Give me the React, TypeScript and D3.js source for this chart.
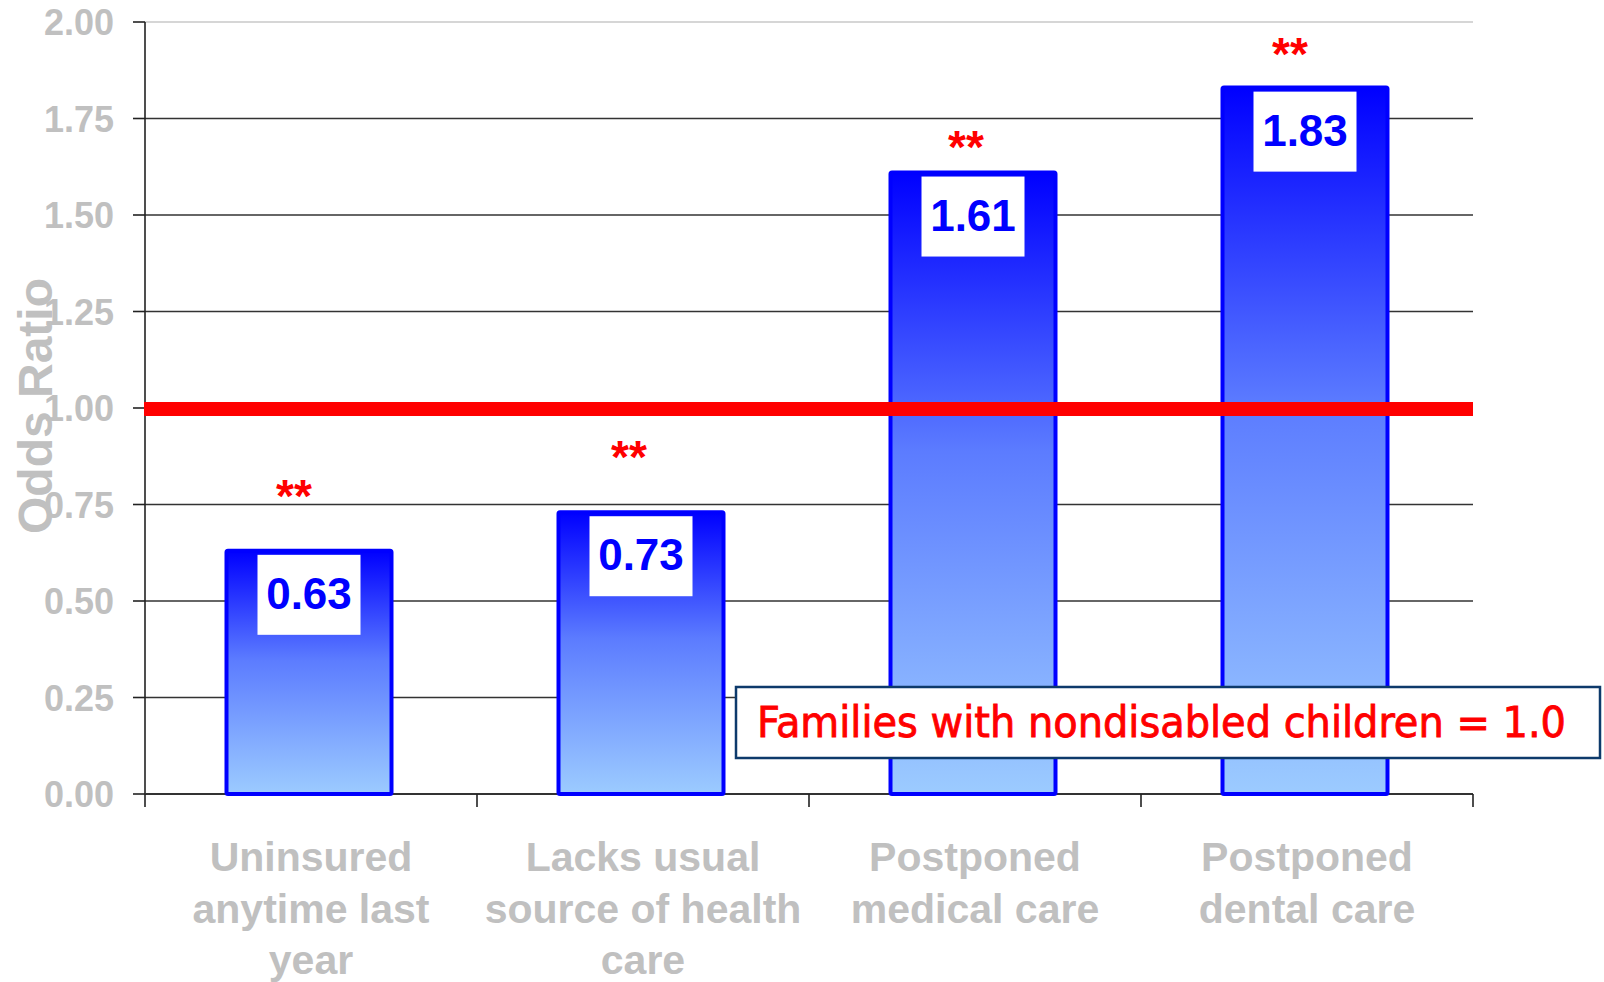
import React from "react";
import * as d3 from "d3";

// Odds ratios for families with disabled children, by access measure
const categories = [
  "Uninsured anytime last year",
  "Lacks usual source of health care",
  "Postponed medical care",
  "Postponed dental care",
];
const categoryLines = [
  ["Uninsured", "anytime last", "year"],
  ["Lacks usual", "source of health", "care"],
  ["Postponed", "medical care"],
  ["Postponed", "dental care"],
];
const oddsRatios = [0.63, 0.73, 1.61, 1.83];
const significance = ["**", "**", "**", "**"];
const yTicks = [0, 0.25, 0.5, 0.75, 1.0, 1.25, 1.5, 1.75, 2.0];
const referenceValue = 1.0;
const referenceNote = "Families with nondisabled children = 1.0";
const yTitle = "Odds Ratio";

// Layout
const W = 1604;
const H = 982;
const plotLeft = 145;
const plotRight = 1473;
const plotTop = 22;
const plotBottom = 794;
const barWidth = 165;
const starGap = [72, 72, 43, 51];
const starDx = [-15, -12, -7, -15];
const gray = "#c0c0c0";
const sans = "'Liberation Sans', Arial, sans-serif";

export default function App() {
  const y = d3.scaleLinear().domain([0, 2]).range([plotBottom, plotTop]);
  const x = d3
    .scaleBand<string>()
    .domain(categories)
    .range([plotLeft, plotRight]);
  const bw = x.bandwidth();
  const fmt = d3.format(".2f");

  return (
    <svg
      width={W}
      height={H}
      viewBox={`0 0 ${W} ${H}`}
      style={{ position: "absolute", left: 0, top: 0, background: "#fff" }}
    >
      <defs>
        <linearGradient id="barFill" x1="0" y1="0" x2="0" y2="1">
          <stop offset="0" stopColor="#0000ff" />
          <stop offset="0.45" stopColor="#5c7cff" />
          <stop offset="1" stopColor="#9ccbff" />
        </linearGradient>
      </defs>

      {/* horizontal gridlines */}
      {yTicks
        .filter((t) => t > 0)
        .map((t) => (
          <line
            key={`g${t}`}
            x1={plotLeft}
            x2={plotRight}
            y1={y(t)}
            y2={y(t)}
            stroke={t === 2 ? "#c8c8c8" : "#333"}
            strokeWidth={1.6}
          />
        ))}

      {/* y ticks and labels */}
      {yTicks.map((t) => (
        <g key={`t${t}`}>
          <line
            x1={plotLeft - 12}
            x2={plotLeft}
            y1={y(t)}
            y2={y(t)}
            stroke="#222"
            strokeWidth={1.6}
          />
          <text
            x={114}
            y={y(t) + 13}
            textAnchor="end"
            fontFamily={sans}
            fontWeight="bold"
            fontSize={36}
            fill={gray}
          >
            {fmt(t)}
          </text>
        </g>
      ))}

      {/* axes */}
      <line
        x1={plotLeft}
        x2={plotLeft}
        y1={plotTop}
        y2={plotBottom}
        stroke="#222"
        strokeWidth={1.6}
      />
      <line
        x1={plotLeft}
        x2={plotRight}
        y1={plotBottom}
        y2={plotBottom}
        stroke="#333"
        strokeWidth={1.8}
      />
      {[...categories.map((c) => x(c) as number), plotRight].map((px, i) => (
        <line
          key={`xt${i}`}
          x1={px}
          x2={px}
          y1={plotBottom}
          y2={plotBottom + 13}
          stroke="#222"
          strokeWidth={1.6}
        />
      ))}

      {/* bars */}
      {categories.map((c, i) => {
        const cx = (x(c) as number) + bw / 2 - 2;
        const top = y(oddsRatios[i]);
        return (
          <rect
            key={`b${i}`}
            x={cx - barWidth / 2}
            y={top}
            width={barWidth}
            height={plotBottom - top}
            fill="url(#barFill)"
            stroke="#0000ff"
            strokeWidth={4}
            rx={1.5}
          />
        );
      })}

      {/* reference line at odds ratio 1.0 */}
      <line
        x1={plotLeft - 1}
        x2={plotRight}
        y1={y(referenceValue) + 1}
        y2={y(referenceValue) + 1}
        stroke="#ff0000"
        strokeWidth={14}
      />

      {/* value boxes and significance markers */}
      {categories.map((c, i) => {
        const cx = (x(c) as number) + bw / 2 - 2;
        const top = y(oddsRatios[i]);
        return (
          <g key={`l${i}`}>
            <rect x={cx - 51.5} y={top + 4} width={103} height={80} fill="#fff" />
            <text
              x={cx}
              y={top + 58}
              textAnchor="middle"
              fontFamily={sans}
              fontWeight="bold"
              fontSize={44}
              fill="#0000ff"
            >
              {fmt(oddsRatios[i])}
            </text>
            <text
              x={cx + starDx[i]}
              y={top - starGap[i] + 33}
              textAnchor="middle"
              fontFamily={sans}
              fontWeight="bold"
              fontSize={46}
              fill="#ff0000"
            >
              {significance[i]}
            </text>
          </g>
        );
      })}

      {/* category labels */}
      {categories.map((c, i) => {
        const cx = (x(c) as number) + bw / 2;
        return (
          <text
            key={`c${i}`}
            textAnchor="middle"
            fontFamily={sans}
            fontWeight="bold"
            fontSize={41}
            fill={gray}
          >
            {categoryLines[i].map((line, j) => (
              <tspan key={j} x={cx} y={plotBottom + 77 + j * 51.5}>
                {line}
              </tspan>
            ))}
          </text>
        );
      })}

      {/* y axis title */}
      <text
        transform={`translate(52, 406) rotate(-90)`}
        textAnchor="middle"
        fontFamily={sans}
        fontWeight="bold"
        fontSize={48}
        fill={gray}
      >
        {yTitle}
      </text>

      {/* reference note */}
      <rect
        x={736}
        y={687}
        width={864}
        height={71}
        fill="#fff"
        stroke="#0d3a6b"
        strokeWidth={2.5}
      />
      <text
        x={757}
        y={737}
        fontFamily="'DejaVu Sans Condensed', 'DejaVu Sans', sans-serif"
        fontSize={42}
        fill="#ff0000"
        stroke="#ff0000"
        strokeWidth={0.8}
        textLength={809}
        lengthAdjust="spacingAndGlyphs"
      >
        {referenceNote}
      </text>
    </svg>
  );
}
